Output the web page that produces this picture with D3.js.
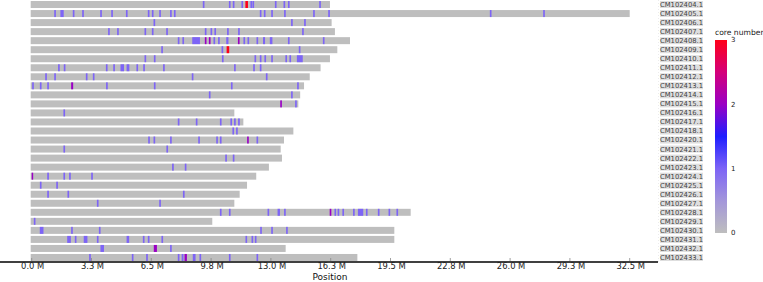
<!DOCTYPE html>
<html><head><meta charset="utf-8">
<script src="https://cdn.jsdelivr.net/npm/d3@7"></script>
<style>body{margin:0;background:#fff}svg{display:block}</style>
</head><body><svg id="c" width="763" height="282"></svg>
<script>
// ---- data (Mb) ----
const chromosomes = ["CM102404.1","CM102405.1","CM102406.1","CM102407.1","CM102408.1","CM102409.1","CM102410.1","CM102411.1","CM102412.1","CM102413.1","CM102414.1","CM102415.1","CM102416.1","CM102417.1","CM102418.1","CM102420.1","CM102421.1","CM102422.1","CM102423.1","CM102424.1","CM102425.1","CM102426.1","CM102427.1","CM102428.1","CM102429.1","CM102430.1","CM102431.1","CM102432.1","CM102433.1"];
const lengths = [16.22,32.52,16.31,16.49,17.31,16.62,16.22,15.71,15.12,14.81,14.60,14.50,11.02,11.51,14.23,13.72,13.54,13.61,12.90,12.21,11.71,11.31,11.02,20.61,9.82,19.72,19.72,13.81,17.71];
const markCenter = [
 [9.35,10.77,10.98,11.45,11.69,11.94,12.05,13.27,13.74,13.98,15.68],
 [1.27,1.65,2.28,2.79,3.77,4.37,5.17,6.36,6.58,6.98,7.57,7.78,12.45,12.67,13.07,13.77,15.35,16.17,24.96,27.86],
 [6.67,14.15,14.86],
 [4.20,4.69,6.18,6.58,7.36,9.46,9.77,9.98,10.67,11.27,14.75],
 [7.99,8.24,8.94,9.46,9.68,9.93,10.18,10.64,11.26,11.56,11.78,12.27,12.635,13.02,13.98,15.88],
 [7.09,10.37,10.67,14.57],
 [6.18,6.69,10.39,12.16,12.45,12.70,13.07,13.84,14.06,14.58],
 [1.48,1.79,4.08,4.48,4.925,5.235,5.74,6.11,7.19,11.05,12.09,12.45],
 [0.78,1.27,2.99,3.37,8.75,12.78],
 [0.07,0.49,0.89,2.20,4.09,6.69,10.88,14.48],
 [9.68,14.15],
 [13.56,14.37],
 [1.77],
 [7.99,8.97,10.28,10.85,11.05,11.27],
 [10.96,11.16],
 [6.38,6.67,7.57,9.10,10.08,10.28,11.76,12.27],
 [1.77,7.37],
 [10.57,10.98],
 [7.68,8.37],
 [0.04,0.89,1.77,2.08,3.28],
 [0.49,1.38],
 [0.89,1.99,8.27],
 [3.59,6.98],
 [10.28,10.77,12.87,13.435,13.77,16.25,16.51,16.68,16.94,17.52,17.885,18.22,18.87,19.45,19.88],
 [0.16],
 [0.54,2.19,3.70,12.47,13.07,13.88],
 [2.03,2.39,2.93,3.59,5.23,6.09,6.36,7.10,11.67,12.00,12.18],
 [3.835,6.725,7.57],
 [3.17,5.49,6.27,7.99,8.205,8.375,8.835,9.17,10.77,12.27]
];
const markSpan = [
 [.09,.09,.09,.09,.14,.09,.09,.09,.09,.09,.09],
 [.09,.18,.09,.09,.09,.09,.09,.09,.09,.09,.09,.09,.09,.09,.09,.09,.09,.09,.09,.09],
 [.09,.09,.09],
 [.09,.09,.09,.09,.09,.09,.09,.09,.09,.09,.09],
 [.09,.09,.42,.09,.09,.09,.09,.12,.09,.09,.09,.09,.11,.14,.09,.09],
 [.09,.09,.14,.09],
 [.09,.09,.09,.09,.09,.09,.09,.09,.09,.32],
 [.09,.09,.09,.09,.19,.15,.09,.09,.09,.09,.09,.09],
 [.09,.09,.09,.09,.09,.09],
 [.09,.09,.09,.11,.09,.09,.09,.09],
 [.09,.09],
 [.09,.09],
 [.09],
 [.09,.09,.09,.09,.09,.09],
 [.09,.09],
 [.09,.09,.09,.09,.09,.09,.09,.09],
 [.09,.09],
 [.09,.09],
 [.09,.09],
 [.08,.09,.09,.09,.09],
 [.09,.09],
 [.09,.09,.09],
 [.09,.09],
 [.09,.09,.09,.13,.09,.09,.09,.09,.09,.09,.29,.09,.09,.09,.09],
 [.09],
 [.20,.09,.09,.09,.09,.09],
 [.20,.09,.20,.09,.14,.09,.09,.09,.09,.09,.09],
 [.19,.17,.09],
 [.09,.09,.09,.09,.10,.13,.15,.09,.09,.09]
];
const markCore = [
 [1,1,1,1,3,1,1,1,1,1,1],
 [1,1,1,1,1,1,1,1,1,1,1,1,1,1,1,1,1,1,1,1],
 [1,1,1],
 [1,1,1,1,1,1,1,1,1,1,1],
 [1,1,1,2,2,1,1,1,2,1,1,1,1,1,1,1],
 [1,1,3,1],
 [1,1,1,1,1,1,1,1,1,1],
 [1,1,1,1,1,1,1,1,1,1,1,1],
 [1,1,1,1,1,1],
 [1,1,1,2,1,1,1,1],
 [1,1],
 [2,1],
 [1],
 [1,1,1,1,1,1],
 [1,1],
 [1,1,1,1,1,1,2,1],
 [1,1],
 [1,1],
 [1,1],
 [2,1,1,1,1],
 [1,1],
 [1,1,1],
 [1,1],
 [1,1,1,1,1,2,1,1,1,1,1,1,1,1,1],
 [1],
 [1,1,1,1,1,1],
 [1,1,1,1,1,1,1,1,1,1,1],
 [1,2,1],
 [1,1,1,1,1,2,1,1,1,1]
];
const tickLabels = ["0.0 M","3.3 M","6.5 M","9.8 M","13.0 M","16.3 M","19.5 M","22.8 M","26.0 M","29.3 M","32.5 M"];
const colorStops = [0,0.5,1,1.5,2,2.5,3];
const colorValues = ["#bebebe","#a396da","#7d64f6","#1e1eff","#9a00c4","#d4007a","#ff0018"];
const cbTicks = [0,1,2,3];

// ---- drawing ----
const svg = d3.select("#c");
const font = "DejaVu Sans, sans-serif";
const maxLen = d3.max(lengths);
const x = d3.scaleLinear().domain([0, maxLen]).range([31.7, 629.7]);
const y = d3.scaleBand().domain(chromosomes).range([0, 262]).paddingInner(0.225).paddingOuter(0.1125);
const color = d3.scaleLinear().domain(colorStops).range(colorValues);

// faint right boundary
svg.append("line").attr("x1",658.5).attr("x2",658.5).attr("y1",0).attr("y2",262)
  .attr("stroke","#ececec").attr("stroke-width",1).attr("stroke-dasharray","1,2");

// chromosome bars
svg.append("g").selectAll("rect").data(chromosomes).join("rect")
  .attr("x", x(0) - 1).attr("y", d => y(d))
  .attr("width", (d,i) => x(lengths[i]) - x(0) + 1)
  .attr("height", y.bandwidth()).attr("fill", "#bebebe");

// marks
const marks = [];
chromosomes.forEach((c,i) => markCenter[i].forEach((m,j) =>
  marks.push({c, center:m, span:markSpan[i][j], core:markCore[i][j]})));
svg.append("g").selectAll("rect").data(marks).join("rect")
  .attr("x", d => x(d.center - d.span/2)).attr("y", d => y(d.c))
  .attr("width", d => Math.max(1.4, x(d.center + d.span/2) - x(d.center - d.span/2)))
  .attr("height", y.bandwidth()).attr("fill", d => color(d.core));

// right labels
const lab = svg.append("g");
lab.selectAll("rect").data(chromosomes).join("rect")
  .attr("x", 660).attr("y", d => y(d)).attr("width", 43).attr("height", y.bandwidth())
  .attr("fill", "#dedede");
lab.selectAll("text").data(chromosomes).join("text")
  .attr("x", 681.5).attr("y", d => y(d) + y.bandwidth()/2).attr("dy","0.36em")
  .attr("text-anchor","middle").attr("font-family",font).attr("font-size","6.8px")
  .attr("fill","#444").text(d => d);

// x axis
const tickVals = tickLabels.map((t,i) => maxLen * i / (tickLabels.length - 1));
const ax = svg.append("g");
ax.append("line").attr("x1",0).attr("x2",658).attr("y1",262).attr("y2",262)
  .attr("stroke","#000").attr("stroke-width",1.3);
ax.selectAll("line.t").data(tickVals).join("line").attr("class","t")
  .attr("x1", d => x(d)).attr("x2", d => x(d)).attr("y1", 261).attr("y2", 258)
  .attr("stroke","#888").attr("stroke-width",0.8);
ax.selectAll("text").data(tickVals).join("text")
  .attr("x", d => x(d) + 1).attr("y", 269.4).attr("text-anchor","middle")
  .attr("font-family",font).attr("font-size","8.4px").attr("fill","#222")
  .text((d,i) => tickLabels[i]);
svg.append("text").attr("x", 330).attr("y", 279.6).attr("text-anchor","middle")
  .attr("font-family",font).attr("font-size","9px").attr("fill","#111").text("Position");

// colorbar
const cbTop = 40, cbBot = 233, cbX = 715, cbW = 12;
const cy = d3.scaleLinear().domain([0,3]).range([cbBot, cbTop]);
const grad = svg.append("defs").append("linearGradient").attr("id","cb")
  .attr("x1","0").attr("y1","1").attr("x2","0").attr("y2","0");
colorStops.forEach((s,i) => grad.append("stop").attr("offset", s/3).attr("stop-color", colorValues[i]));
svg.append("rect").attr("x",cbX).attr("y",cbTop).attr("width",cbW).attr("height",cbBot-cbTop)
  .attr("fill","url(#cb)");
svg.selectAll("text.cbt").data(cbTicks).join("text").attr("class","cbt")
  .attr("x", cbX + cbW + 4).attr("y", d => cy(d)).attr("dy","0.35em")
  .attr("font-family",font).attr("font-size","7px").attr("fill","#222").text(d => d);
svg.append("text").attr("x", cbX).attr("y", 34.5).attr("font-family",font)
  .attr("font-size","7.6px").attr("fill","#222").text("core number");
</script></body></html>
